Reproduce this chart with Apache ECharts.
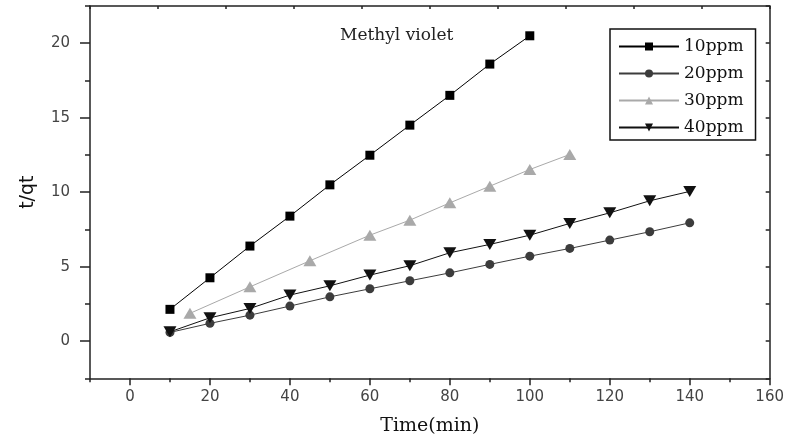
<!DOCTYPE html>
<html>
<head>
<meta charset="utf-8">
<script src="https://cdn.jsdelivr.net/npm/echarts@6/dist/echarts.min.js"></script>
<style>html,body{margin:0;padding:0;background:#fff;}#c{width:787px;height:441px;}</style>
</head>
<body>
<div id="c"></div>
<script>
const seriesNames = ['10ppm', '20ppm', '30ppm', '40ppm'];
const x10 = [10, 20, 30, 40, 50, 60, 70, 80, 90, 100];
const y10 = [2.13, 4.25, 6.38, 8.39, 10.49, 12.48, 14.5, 16.5, 18.6, 20.5];
const x20 = [10, 20, 30, 40, 50, 60, 70, 80, 90, 100, 110, 120, 130, 140];
const y20 = [0.58, 1.19, 1.74, 2.35, 2.97, 3.51, 4.05, 4.58, 5.15, 5.70, 6.22, 6.78, 7.34, 7.94];
const x30 = [15, 30, 45, 60, 70, 80, 90, 100, 110];
const y30 = [1.86, 3.64, 5.39, 7.11, 8.12, 9.28, 10.4, 11.52, 12.53];
const x40 = [10, 20, 30, 40, 50, 60, 70, 80, 90, 100, 110, 120, 130, 140];
const y40 = [0.62, 1.56, 2.19, 3.09, 3.71, 4.43, 5.06, 5.93, 6.49, 7.11, 7.9, 8.61, 9.42, 10.05];
const xTickLabels = [0, 20, 40, 60, 80, 100, 120, 140, 160];
const yTickLabels = [0, 5, 10, 15, 20];
const titleText = 'Methyl violet';
const xName = 'Time(min)';
const yName = 't/qt';

const pair = (xs, ys) => xs.map((x, i) => [x, ys[i]]);
const axisCol = '#222';
const labelFont = { fontFamily: 'DejaVu Sans', fontSize: 15, color: '#444' };
const lineOn = { show: true, onZero: false, lineStyle: { color: axisCol, width: 1.5 } };
const lineOff = { show: false, onZero: false };

const chart = echarts.init(document.getElementById('c'), null, { renderer: 'canvas' });
chart.setOption({
  animation: false,
  backgroundColor: '#fff',
  title: {
    text: titleText, left: 340, top: 27, padding: 0,
    textStyle: { fontFamily: 'DejaVu Serif', fontSize: 17, fontWeight: 'normal', color: '#222' }
  },
  legend: {
    orient: 'vertical', left: 610, top: 29,
    padding: [9, 12, 4, 8], itemGap: 10, itemWidth: 60, itemHeight: 10,
    borderColor: '#111', borderWidth: 1.5,
    textStyle: { fontFamily: 'DejaVu Serif', fontSize: 17, color: '#111', lineHeight: 14 },
    data: seriesNames
  },
  grid: { left: 90, right: 12, top: 6, bottom: 62.7, containLabel: false },
  xAxis: [
    {
      type: 'value', position: 'bottom', min: -10, max: 160, interval: 10,
      axisLine: lineOn,
      axisTick: { show: true, length: 4, lineStyle: { color: axisCol, width: 1.5 } },
      axisLabel: { ...labelFont, margin: 11, customValues: xTickLabels,
        formatter: v => (xTickLabels.indexOf(v) >= 0 ? String(v) : '') },
      splitLine: { show: false },
      name: xName, nameLocation: 'middle', nameGap: 38,
      nameTextStyle: { fontFamily: 'DejaVu Serif', fontSize: 19, color: '#111' }
    },
    {
      type: 'value', position: 'bottom', min: -10, max: 160, interval: 10,
      axisLine: lineOff,
      axisTick: { show: true, length: 7, customValues: xTickLabels, lineStyle: { color: axisCol, width: 1.5 } },
      axisLabel: { show: false }, splitLine: { show: false }
    },
    {
      type: 'value', position: 'top', min: 0, max: 10, interval: 1,
      axisLine: lineOn,
      axisTick: { show: true, inside: true, length: 3, lineStyle: { color: axisCol, width: 1.5 } },
      axisLabel: { show: false }, splitLine: { show: false }
    }
  ],
  yAxis: [
    {
      type: 'value', position: 'left', min: -2.5, max: 22.5, interval: 2.5,
      axisLine: lineOn,
      axisTick: { show: true, length: 5, lineStyle: { color: axisCol, width: 1.5 } },
      axisLabel: { ...labelFont, margin: 20, customValues: yTickLabels,
        formatter: v => (yTickLabels.indexOf(v) >= 0 ? String(v) : '') },
      splitLine: { show: false },
      name: yName, nameLocation: 'middle', nameGap: 52,
      nameTextStyle: { fontFamily: 'DejaVu Sans', fontSize: 19, color: '#111' }
    },
    {
      type: 'value', position: 'left', min: -2.5, max: 22.5, interval: 2.5,
      axisLine: lineOff,
      axisTick: { show: true, length: 10, customValues: yTickLabels, lineStyle: { color: axisCol, width: 1.5 } },
      axisLabel: { show: false }, splitLine: { show: false }
    },
    {
      type: 'value', position: 'right', min: -2.5, max: 22.5, interval: 2.5,
      axisLine: lineOn,
      axisTick: { show: true, inside: true, length: 4, lineStyle: { color: axisCol, width: 1.5 } },
      axisLabel: { show: false }, splitLine: { show: false }
    }
  ],
  series: [
    { name: seriesNames[0], type: 'line', data: pair(x10, y10), symbol: 'rect', symbolSize: 9,
      itemStyle: { color: '#000' }, lineStyle: { color: '#000', width: 1 }, z: 5 },
    { name: seriesNames[1], type: 'line', data: pair(x20, y20), symbol: 'circle', symbolSize: 9,
      itemStyle: { color: '#3c3c3c' }, lineStyle: { color: '#3c3c3c', width: 1 }, z: 3 },
    { name: seriesNames[2], type: 'line', data: pair(x30, y30), symbol: 'triangle', symbolSize: [13, 11],
      itemStyle: { color: '#a9a9a9' }, lineStyle: { color: '#a9a9a9', width: 1 }, z: 2 },
    { name: seriesNames[3], type: 'line', data: pair(x40, y40), symbol: 'triangle', symbolRotate: 180, symbolSize: [13, 11],
      itemStyle: { color: '#111' }, lineStyle: { color: '#111', width: 1 }, z: 4 }
  ]
});
</script>
</body>
</html>
